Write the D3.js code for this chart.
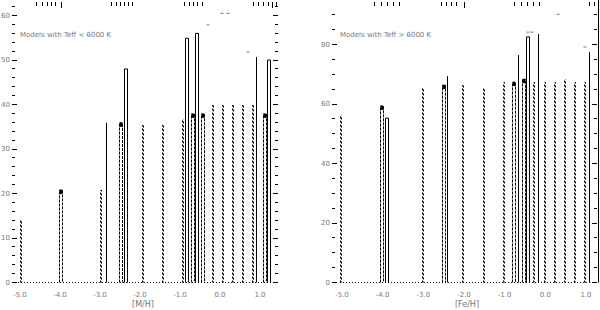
<!DOCTYPE html>
<html><head><meta charset="utf-8">
<script src="https://cdn.jsdelivr.net/npm/d3@7"></script>
<style>body{margin:0;background:#fff}svg{display:block}text{font-family:"DejaVu Sans",sans-serif;fill:#777}</style>
</head><body><svg id="c" width="600" height="310"></svg>
<script>
// ---- data (metallicity, number of models) ----
const xTickValues = [-5, -4, -3, -2, -1, 0, 1];
const xTickLabels = ["-5.0", "-4.0", "-3.0", "-2.0", "-1.0", "0.0", "1.0"];
const leftYTicks = [0, 10, 20, 30, 40, 50, 60];
const rightYTicks = [0, 20, 40, 60, 80];

const leftDashed = [[-5.0,14],[-3.0,20.7],[-1.95,35.3],[-1.45,35.3],[-0.95,36.6],[-0.2,39.8],[0.05,39.8],[0.3,39.8],[0.55,39.8],[0.8,39.8]];
const leftThick = [[-4.0,20.7],[-2.5,35.8],[-0.7,37.8],[-0.45,37.8],[1.1,37.8]];
const leftSolidDouble = [[-2.38,47.9],[-0.84,54.8],[-0.6,55.9],[1.19,49.9]];
const leftSolidSingle = [[-2.85,35.8],[0.9,50.6]];
const leftFaint = [[-0.33,57.8],[0.02,60.4],[0.18,60.4],[0.68,51.7]];

const rightDashed = [[-5.05,56.1],[-3.03,65.2],[-2.05,66.2],[-1.54,65.2],[-1.04,67.2],[-0.31,67.2],[-0.04,67.2],[0.21,67.2],[0.45,68.2],[0.7,67.2],[0.95,67.2]];
const rightThick = [[-4.04,59.2],[-2.52,66.2],[-0.8,67.2],[-0.55,68.2]];
const rightSolidDouble = [[-3.93,55.1],[-0.44,82.4]];
const rightSolidSingle = [[-2.42,69.2],[-0.68,76.3],[-0.18,83.4],[1.07,77.3],[1.29,100]];
const rightFaint = [[-0.45,84],[-0.35,84],[0.28,90],[0.95,79]];

const topTicksLeft = [-4.6,-4.45,-4.32,-4.22,-4.12,-3.98,-2.72,-2.6,-2.5,-2.4,-2.3,-2.2,-0.9,-0.78,-0.68,-0.58,-0.45,0.83,0.95,1.08,1.2,1.3,1.4];
const topTicksLeftLong = [-3.98, 1.3];
const topTicksRight = [-4.21,-4.05,-3.9,-3.75,-3.6,-2.57,-2.45,-2.33,-2.2,-2.0,-0.77,-0.6,-0.45,-0.3,-0.15,1.08,1.19];
const topTicksRightLong = [-2.0];

const titles = ["Models with Teff < 6000 K", "Models with Teff > 6000 K"];
const xTitles = ["[M/H]", "[Fe/H]"];

// ---- drawing ----
const svg = d3.select("#c");

function panel(cfg) {
  const g = svg.append("g");
  const xs = d3.scaleLinear().domain([-5, 1]).range(cfg.xr);
  const ys = d3.scaleLinear().domain([0, cfg.ymax]).range([282, 0]);
  const y0 = ys(0) + 0.5;
  const clip = "clip" + cfg.id;
  svg.append("clipPath").attr("id", clip).append("rect")
    .attr("x", cfg.ax[0]).attr("y", 0).attr("width", cfg.ax[1] - cfg.ax[0] + 2).attr("height", 290);
  const gd = g.append("g").attr("clip-path", `url(#${clip})`);
  const px = v => Math.round(xs(v)) + 0.5;

  gd.append("line").attr("x1", xs(-5.05)).attr("x2", cfg.ax[1] - 2)
    .attr("y1", y0).attr("y2", y0).attr("stroke", "#000").attr("stroke-dasharray", "1,2");

  cfg.dashed.forEach(d => {
    const x = px(d[0]);
    [0, 1].forEach(k => gd.append("line").attr("x1", x + k).attr("x2", x + k)
      .attr("y1", y0).attr("y2", ys(d[1]))
      .attr("stroke", "#000").attr("stroke-dasharray", "2,2").attr("stroke-dashoffset", k));
  });
  cfg.thick.forEach(d => {
    const x = px(d[0]);
    gd.append("path").attr("d", `M${x - 1},${y0}V${ys(d[1])}H${x + 2}V${y0}`)
      .attr("fill", "none").attr("stroke", "#000").attr("stroke-dasharray", "3,1");
    gd.append("rect").attr("x", x - 1).attr("y", ys(d[1])).attr("width", 3).attr("height", 4).attr("fill", "#000");
  });
  cfg.solidDouble.forEach(d => {
    const x = px(d[0]);
    gd.append("path").attr("d", `M${x - 1},${y0}V${ys(d[1])}H${x + 2}V${y0}`)
      .attr("fill", "none").attr("stroke", "#000");
  });
  cfg.solidSingle.forEach(d => {
    const x = px(d[0]);
    gd.append("line").attr("x1", x).attr("x2", x).attr("y1", y0).attr("y2", ys(d[1]))
      .attr("stroke", "#000");
  });
  cfg.faint.forEach(d => {
    const x = px(d[0]);
    gd.append("line").attr("x1", x - 1).attr("x2", x + 2).attr("y1", ys(d[1])).attr("y2", ys(d[1]))
      .attr("stroke", "#777");
  });

  const yMinor = d3.range(0, cfg.ymax, cfg.minor);
  yMinor.forEach(v => {
    const major = isMajor(cfg.yt, v);
    const L = major ? 5 : 3;
    const y = Math.round(ys(v)) + 0.5;
    g.append("line").attr("x1", cfg.ax[0]).attr("x2", cfg.ax[0] + L).attr("y1", y).attr("y2", y).attr("stroke", "#000");
    g.append("line").attr("x1", cfg.ax[1]).attr("x2", cfg.ax[1] - L).attr("y1", y).attr("y2", y).attr("stroke", "#000");
  });
  g.selectAll(".yl").data(cfg.yt).join("text")
    .attr("x", cfg.ax[0] - 2).attr("y", d => ys(d) + 2.5)
    .attr("text-anchor", "end").attr("font-size", 7).text(d => d);

  g.selectAll(".xl").data(xTickValues).join("text")
    .attr("x", d => xs(d)).attr("y", 297).attr("text-anchor", "middle")
    .attr("font-size", 7).text((d, i) => xTickLabels[i]);
  g.append("text").attr("x", (cfg.xr[0] + cfg.xr[1]) / 2 + 3).attr("y", 307)
    .attr("text-anchor", "middle").attr("font-size", 8).text(cfg.xtitle);

  cfg.top.forEach(v => {
    const x = px(v);
    const long = cfg.topLong.includes(v);
    g.append("line").attr("x1", x).attr("x2", x).attr("y1", 2).attr("y2", long ? 8 : 6).attr("stroke", "#000");
  });

  g.append("text").attr("x", cfg.tx).attr("y", 37).attr("font-size", 7).text(cfg.title);
}
function isMajor(list, v) { return list.some(t => Math.abs(t - v) < 1e-6); }

panel({id: "L", xr: [20, 260], ymax: 63.4, ax: [12, 278], yt: leftYTicks, minor: 2,
  dashed: leftDashed, thick: leftThick, solidDouble: leftSolidDouble, solidSingle: leftSolidSingle, faint: leftFaint,
  top: topTicksLeft, topLong: topTicksLeftLong, title: titles[0], tx: 20, xtitle: xTitles[0]});
panel({id: "R", xr: [342, 586], ymax: 94.8, ax: [332, 597], yt: rightYTicks, minor: 5,
  dashed: rightDashed, thick: rightThick, solidDouble: rightSolidDouble, solidSingle: rightSolidSingle, faint: rightFaint,
  top: topTicksRight, topLong: topTicksRightLong, title: titles[1], tx: 340, xtitle: xTitles[1]});
</script></body></html>
